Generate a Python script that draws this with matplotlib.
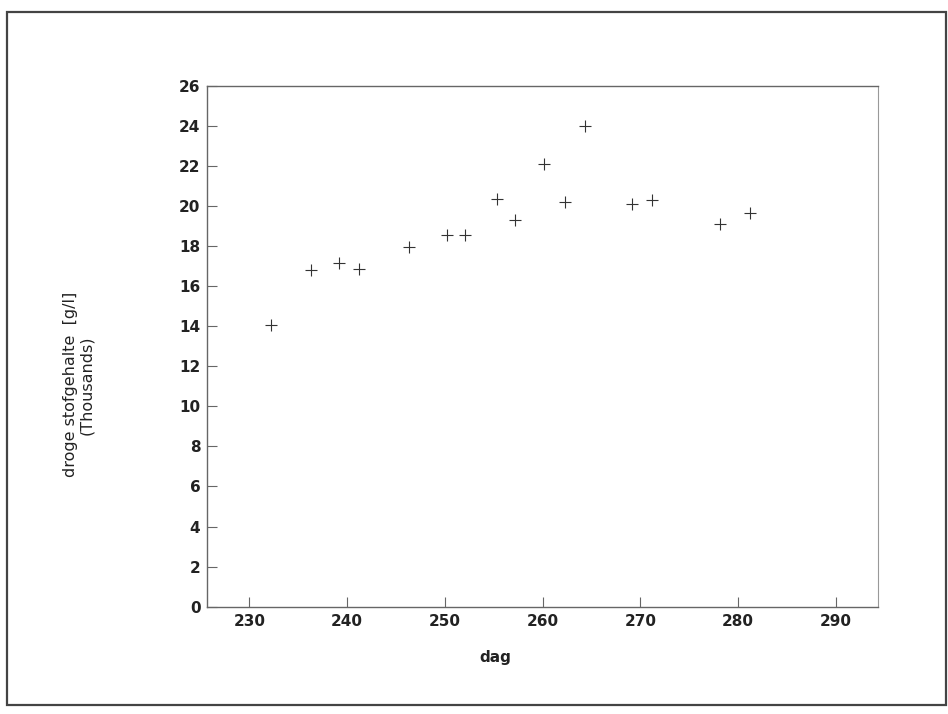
import matplotlib.pyplot as plt
from matplotlib.patches import Rectangle

plt.rcParams['font.family'] = ['DejaVu Sans']

dag = [232.2, 236.3, 239.2, 241.2, 246.3, 250.2, 252.1, 255.3,
       257.2, 260.2, 262.3, 264.3, 269.2, 271.2, 278.2, 281.2]
stofgehalte = [14.06, 16.8, 17.17, 16.85, 17.93, 18.56, 18.56, 20.36,
               19.31, 22.1, 20.2, 24.0, 20.09, 20.31, 19.08, 19.63]
xticks = [230, 240, 250, 260, 270, 280, 290]
yticks = list(range(0, 27, 2))

fig = plt.figure(figsize=(9.48, 7.14), dpi=100)
fig.patch.set_facecolor('white')

# scanned page frame
fig.patches.append(Rectangle((0.0074, 0.0126), 0.99, 0.970, transform=fig.transFigure,
                             fill=False, edgecolor='#444444', linewidth=1.6))

ax = fig.add_axes([0.2187, 0.1503, 0.7072, 0.7297])
ax.plot(dag, stofgehalte, linestyle='none', marker='+', markersize=9,
        markeredgewidth=0.8, color='#333333')

ax.set_xlim(225.7, 294.3)
ax.set_ylim(0, 26)
ax.set_xticks(xticks)
ax.set_yticks(yticks)
ax.tick_params(direction='in', length=7, width=0.8, color='#666666',
               labelsize=11, labelcolor='#222222', pad=5)
for lab in ax.get_xticklabels() + ax.get_yticklabels():
    lab.set_fontweight('bold')

for side in ['left', 'bottom', 'top']:
    ax.spines[side].set_color('#666666')
    ax.spines[side].set_linewidth(1.0)
ax.spines['right'].set_color('#999999')
ax.spines['right'].set_linewidth(0.8)
ax.spines['right'].set_linestyle((0, (4, 1)))

fig.text(0.522, 0.079, 'dag', ha='center', va='center', fontsize=11,
         fontweight='bold', color='#222222')
fig.text(0.083, 0.461, 'droge stofgehalte  [g/l]\n(Thousands)', ha='center', va='center',
         rotation=90, fontsize=11.5, color='#222222', linespacing=1.05)

fig.savefig('out.png', dpi=100)
